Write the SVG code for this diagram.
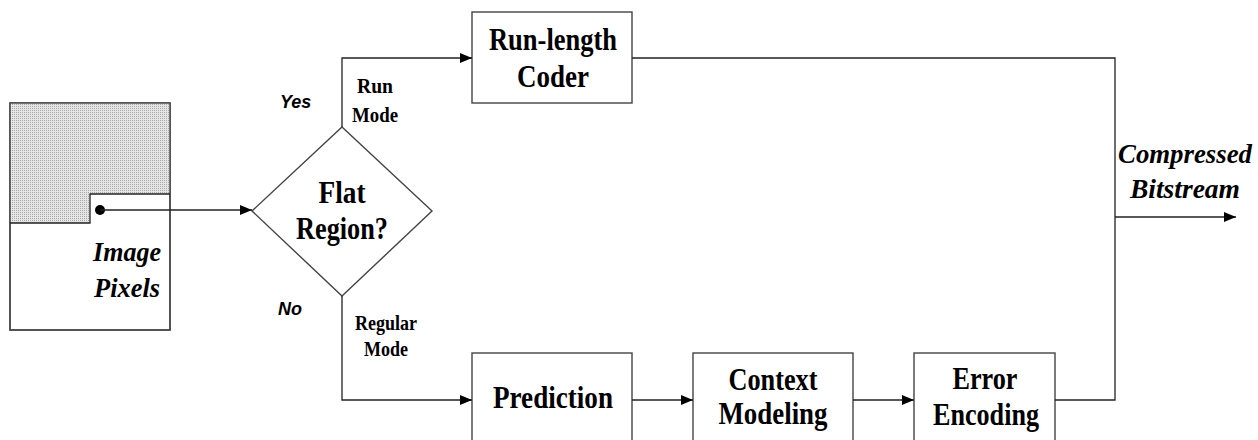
<svg xmlns="http://www.w3.org/2000/svg" width="1258" height="440" viewBox="0 0 1258 440">
<style>
.box{fill:#fff;stroke:#444;stroke-width:1.4}
.ln{fill:none;stroke:#222;stroke-width:1.3}
.lbl{font-family:"Liberation Serif","Times New Roman",serif;font-weight:bold;font-size:31px;fill:#000;text-anchor:middle}
.sm{font-family:"Liberation Serif","Times New Roman",serif;font-weight:bold;font-size:21px;fill:#000;text-anchor:middle}
.it{font-family:"Liberation Serif","Times New Roman",serif;font-weight:bold;font-style:italic;font-size:28px;fill:#000;text-anchor:middle}
.yn{font-family:"Liberation Sans",Arial,sans-serif;font-weight:bold;font-style:italic;font-size:18px;fill:#000}
</style>
<defs>
<marker id="arr" viewBox="0 0 12 10" refX="12" refY="5" markerWidth="12" markerHeight="10" markerUnits="userSpaceOnUse" orient="auto">
<path d="M0,0 L12,5 L0,10 z" fill="#000"/>
</marker>
<pattern id="dots" width="2" height="2" patternUnits="userSpaceOnUse">
<rect width="2" height="2" fill="#e6e6e6"/>
<rect width="1" height="1" fill="#a8a8a8"/>
</pattern>
</defs>

<g id="image-pixels">
<rect x="10" y="103" width="160" height="227" class="box"/>
<path d="M10,103 H170 V194 H90 V223 H10 Z" fill="url(#dots)"/>
<rect x="10" y="103" width="160" height="227" fill="none" stroke="#444" stroke-width="1.4"/>
<path d="M170,194 H90 V223 H10" class="ln"/>
<circle cx="100" cy="210" r="5" fill="#000"/>
<text class="it" x="127" y="261" textLength="68" lengthAdjust="spacingAndGlyphs">Image</text>
<text class="it" x="127" y="297" textLength="66" lengthAdjust="spacingAndGlyphs">Pixels</text>
</g>

<g id="flat-region">
<polygon points="342,127 432,211 342,296 252,211" class="box"/>
<text class="lbl" x="342" y="203" textLength="47" lengthAdjust="spacingAndGlyphs">Flat</text>
<text class="lbl" x="342" y="239" textLength="92" lengthAdjust="spacingAndGlyphs">Region?</text>
</g>

<g id="run-length-coder">
<rect x="472" y="12" width="160" height="91" class="box"/>
<text class="lbl" x="553" y="50" textLength="128" lengthAdjust="spacingAndGlyphs">Run-length</text>
<text class="lbl" x="553" y="87" textLength="72" lengthAdjust="spacingAndGlyphs">Coder</text>
</g>

<g id="prediction">
<rect x="472" y="353" width="160" height="95" class="box"/>
<text class="lbl" x="553" y="408" textLength="120" lengthAdjust="spacingAndGlyphs">Prediction</text>
</g>

<g id="context-modeling">
<rect x="693" y="353" width="160" height="95" class="box"/>
<text class="lbl" x="773" y="390" textLength="89" lengthAdjust="spacingAndGlyphs">Context</text>
<text class="lbl" x="773" y="424" textLength="109" lengthAdjust="spacingAndGlyphs">Modeling</text>
</g>

<g id="error-encoding">
<rect x="914" y="353" width="141" height="95" class="box"/>
<text class="lbl" x="985" y="389" textLength="65" lengthAdjust="spacingAndGlyphs">Error</text>
<text class="lbl" x="986" y="425" textLength="106" lengthAdjust="spacingAndGlyphs">Encoding</text>
</g>

<g id="labels">
<text class="yn" x="280" y="108">Yes</text>
<text class="yn" x="278" y="315">No</text>
<text class="sm" x="375" y="93" textLength="36" lengthAdjust="spacingAndGlyphs">Run</text>
<text class="sm" x="375" y="122" textLength="46" lengthAdjust="spacingAndGlyphs">Mode</text>
<text class="sm" x="386" y="330" textLength="62" lengthAdjust="spacingAndGlyphs">Regular</text>
<text class="sm" x="386" y="356" textLength="44" lengthAdjust="spacingAndGlyphs">Mode</text>
<text class="it" x="1185" y="163" textLength="134" lengthAdjust="spacingAndGlyphs">Compressed</text>
<text class="it" x="1185" y="198" textLength="110" lengthAdjust="spacingAndGlyphs">Bitstream</text>
</g>

<g id="connectors">
<path d="M100,210 H252" class="ln" marker-end="url(#arr)"/>
<path d="M342,127 V58 H472" class="ln" marker-end="url(#arr)"/>
<path d="M342,296 V400 H472" class="ln" marker-end="url(#arr)"/>
<path d="M632,400 H693" class="ln" marker-end="url(#arr)"/>
<path d="M853,400 H914" class="ln" marker-end="url(#arr)"/>
<path d="M632,58 H1115 V400 H1055" class="ln"/>
<path d="M1115,217 H1236" class="ln" marker-end="url(#arr)"/>
</g>
</svg>
